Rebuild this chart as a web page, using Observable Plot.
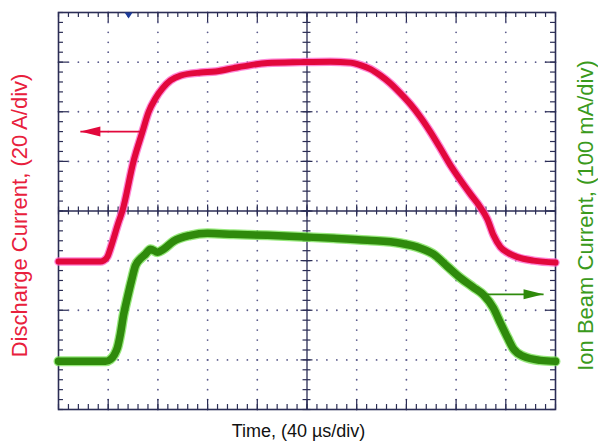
<!DOCTYPE html>
<html>
<head>
<meta charset="utf-8">
<script src="https://cdn.jsdelivr.net/npm/d3@7"></script>
<script src="https://cdn.jsdelivr.net/npm/@observablehq/plot@0.6"></script>
<style>
  html, body { margin: 0; padding: 0; background: #fff; }
  #chart svg { display: block; }
</style>
</head>
<body>
<div id="chart"></div>
<script>
// Time in divisions (40 µs/div), signal in divisions from bottom of screen
const dischargeTime = [0, 0.845, 0.905, 0.986, 1.066, 1.207, 1.288, 1.509, 1.690, 1.811, 1.952, 2.093, 2.254, 2.455, 2.857, 3.159, 3.521, 3.863, 4.205, 4.869, 5.473, 5.875, 6.076, 6.278, 6.479, 6.680, 6.881, 7.082, 7.284, 7.485, 7.686, 7.887, 8.089, 8.290, 8.491, 8.632, 8.753, 8.893, 9.054, 9.235, 9.557, 10.0];
const dischargeDiv = [2.98, 2.98, 3.00, 3.08, 3.31, 3.77, 4.01, 5.00, 5.60, 5.99, 6.27, 6.47, 6.63, 6.73, 6.79, 6.81, 6.88, 6.94, 6.98, 7.00, 7.01, 6.99, 6.94, 6.86, 6.73, 6.57, 6.37, 6.15, 5.89, 5.59, 5.26, 4.92, 4.62, 4.34, 4.07, 3.83, 3.51, 3.27, 3.15, 3.07, 3.00, 2.96];

const ionTime = [0, 0.946, 1.046, 1.127, 1.187, 1.247, 1.308, 1.388, 1.469, 1.549, 1.650, 1.750, 1.851, 1.992, 2.113, 2.314, 2.656, 2.998, 3.521, 4.205, 4.869, 5.533, 6.217, 6.881, 7.284, 7.545, 7.827, 8.089, 8.350, 8.551, 8.753, 8.893, 9.034, 9.155, 9.356, 9.698, 10.0];
const ionDiv = [0.97, 0.97, 1.01, 1.11, 1.25, 1.53, 1.90, 2.26, 2.60, 2.90, 3.04, 3.13, 3.23, 3.17, 3.23, 3.39, 3.51, 3.55, 3.53, 3.51, 3.48, 3.45, 3.41, 3.35, 3.25, 3.13, 2.88, 2.65, 2.46, 2.31, 2.04, 1.74, 1.45, 1.22, 1.07, 0.99, 0.97];

// Arrows pointing to the relevant axis (tail, tip, level) in divisions
const dischargeArrow = {from: 1.69, to: 0.44, at: 5.60};
const ionArrow = {from: 8.59, to: 9.76, at: 2.32};
const triggerTime = [1.41];

const xLabel = "Time, (40 µs/div)";
const yLeftLabel = "Discharge Current, (20 A/div)";
const yRightLabel = "Ion Beam Current, (100 mA/div)";

const divisionsX = 10, divisionsY = 8;

const discharge = dischargeTime.map((t, i) => ({t, v: dischargeDiv[i]}));
const ion = ionTime.map((t, i) => ({t, v: ionDiv[i]}));

const RED = "#e2083c", RED_HALO = "#ff5fc8";
const GREEN = "#2f8a0c", GREEN_HALO = "#74e050";
const NAVY = "#2b2d55", DOT = "#5c5c8c";

const minorX = d3.range(0, divisionsX * 5 + 1).map(i => i / 5);
const minorY = d3.range(0, divisionsY * 5 + 1).map(i => i / 5);
const majorX = d3.range(1, divisionsX);
const majorY = d3.range(1, divisionsY);

const gridDots = [];
for (const gx of majorX) if (gx !== 5) for (const fy of minorY) gridDots.push({x: gx, y: fy});
for (const gy of majorY) if (gy !== 4) for (const fx of minorX) gridDots.push({x: fx, y: gy});

const chart = Plot.plot({
  width: 598,
  height: 446,
  marginLeft: 58,
  marginRight: 43,
  marginTop: 12,
  marginBottom: 37,
  x: {domain: [0, divisionsX], axis: null},
  y: {domain: [0, divisionsY], axis: null},
  style: {fontFamily: "'Liberation Sans', Arial, sans-serif", background: "#fff"},
  marks: [
    // dotted graticule
    Plot.dot(gridDots, {x: "x", y: "y", r: 0.9, fill: DOT, stroke: "none"}),
    // center cross
    Plot.ruleY([divisionsY / 2], {stroke: NAVY, strokeWidth: 1.3}),
    Plot.ruleX([divisionsX / 2], {stroke: NAVY, strokeWidth: 1.3}),
    Plot.ruleX(minorX, {x: d => d, y1: 3.92, y2: 4.08, stroke: NAVY, strokeWidth: 1.2}),
    Plot.ruleX(majorX, {x: d => d, y1: 3.88, y2: 4.12, stroke: NAVY, strokeWidth: 1.2}),
    Plot.ruleY(minorY, {y: d => d, x1: 4.92, x2: 5.08, stroke: NAVY, strokeWidth: 1.2}),
    Plot.ruleY(majorY, {y: d => d, x1: 4.88, x2: 5.12, stroke: NAVY, strokeWidth: 1.2}),
    // edge ticks
    Plot.ruleX(minorX, {x: d => d, y1: 8, y2: 7.9, stroke: NAVY, strokeWidth: 1.2}),
    Plot.ruleX(majorX, {x: d => d, y1: 8, y2: 7.8, stroke: NAVY, strokeWidth: 1.2}),
    Plot.ruleX(minorX, {x: d => d, y1: 0, y2: 0.1, stroke: NAVY, strokeWidth: 1.2}),
    Plot.ruleX(majorX, {x: d => d, y1: 0, y2: 0.2, stroke: NAVY, strokeWidth: 1.2}),
    Plot.ruleY(minorY, {y: d => d, x1: 0, x2: 0.1, stroke: NAVY, strokeWidth: 1.2}),
    Plot.ruleY(majorY, {y: d => d, x1: 0, x2: 0.2, stroke: NAVY, strokeWidth: 1.2}),
    Plot.ruleY(minorY, {y: d => d, x1: 10, x2: 9.9, stroke: NAVY, strokeWidth: 1.2}),
    Plot.ruleY(majorY, {y: d => d, x1: 10, x2: 9.8, stroke: NAVY, strokeWidth: 1.2}),
    Plot.frame({stroke: NAVY, strokeWidth: 1.6}),
    // trigger marker
    Plot.vector(triggerTime, {x: d => d, y: divisionsY, rotate: 180, shape: "spike", length: 6, r: 4, anchor: "start", fill: "#1d3c9a", stroke: "none"}),
    // traces
    Plot.line(discharge, {x: "t", y: "v", stroke: RED_HALO, strokeWidth: 8.5, strokeOpacity: 0.75, curve: "monotone-x"}),
    Plot.line(discharge, {x: "t", y: "v", stroke: RED, strokeWidth: 6, curve: "monotone-x"}),
    Plot.line(ion, {x: "t", y: "v", stroke: GREEN_HALO, strokeWidth: 10, strokeOpacity: 0.75, curve: "monotone-x"}),
    Plot.line(ion, {x: "t", y: "v", stroke: GREEN, strokeWidth: 7.5, curve: "monotone-x"}),
    // arrows
    Plot.link([dischargeArrow], {x1: "from", x2: "to", y1: "at", y2: "at", stroke: RED, strokeWidth: 1.6}),
    Plot.vector([dischargeArrow], {x: "to", y: "at", rotate: 270, shape: "spike", length: 20, r: 5, anchor: "end", fill: RED, stroke: "none"}),
    Plot.link([ionArrow], {x1: "from", x2: "to", y1: "at", y2: "at", stroke: GREEN, strokeWidth: 1.6}),
    Plot.vector([ionArrow], {x: "to", y: "at", rotate: 90, shape: "spike", length: 20, r: 5, anchor: "end", fill: GREEN, stroke: "none"}),
    // axis labels
    Plot.text([xLabel], {text: d => d, frameAnchor: "bottom", textAnchor: "middle", dx: -8.5, dy: 27, lineAnchor: "bottom", fontSize: 18, fill: "#111"}),
    Plot.text([yLeftLabel], {text: d => d, frameAnchor: "left", textAnchor: "middle", dx: -38.5, dy: 4.5, rotate: -90, lineAnchor: "middle", fontSize: 22, fill: "#e8203c"}),
    Plot.text([yRightLabel], {text: d => d, frameAnchor: "right", textAnchor: "middle", dx: 30, dy: 4.5, rotate: -90, lineAnchor: "middle", fontSize: 22, fill: "#3a9a1c"})
  ]
});

document.getElementById("chart").appendChild(chart);
</script>
</body>
</html>
